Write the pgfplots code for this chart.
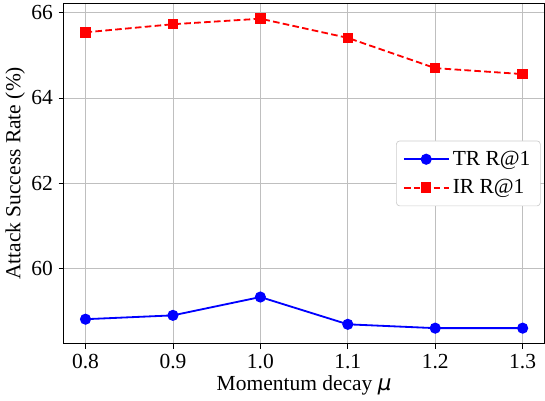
\documentclass[border=0pt]{standalone}
\usepackage{fontspec}
\setmainfont{Liberation Serif}
\newfontfamily\dejavu{DejaVu Sans}
\usepackage{pgfplots}
\pgfplotsset{compat=1.18}
\begin{document}
\begin{tikzpicture}
\begin{axis}[
  scale only axis,
  width=291pt, height=206pt,
  xmin=0.775, xmax=1.325,
  ymin=58.237, ymax=66.223,
  xtick={0.8,0.9,1.0,1.1,1.2,1.3},
  ytick={60,62,64,66},
  xticklabel style={/pgf/number format/.cd,fixed,fixed zerofill,precision=1},
  /pgf/number format/assume math mode=true,
  tick align=outside, tick pos=left,
  major tick length=3pt,
  tick style={black, line width=0.5pt},
  grid=major,
  grid style={color=black!25, line width=0.5pt},
  axis line style={black, line width=0.6pt},
  font=\fontsize{13}{15}\selectfont,
  ticklabel style={font=\fontsize{13}{15}\selectfont},
  xlabel={Momentum decay {\dejavu\itshape μ}},
  ylabel={Attack Success Rate (\%)},
  xlabel style={yshift=3pt},
  ylabel style={yshift=-3pt},
  legend style={at={(0.992,0.5)}, anchor=east, draw=black!20, rounded corners=2pt,
    fill=white, font=\fontsize{13}{15}\selectfont,
    inner xsep=4pt, inner ysep=4pt, row sep=3pt},
  legend cell align=left,
  legend image code/.code={
    \draw[#1, mark=none] (0pt,0pt) -- (27pt,0pt);
    \draw[#1, solid, draw opacity=0] plot coordinates {(13.5pt,0pt)};
  },
]
\addplot[blue, line width=1.1pt, mark=*, mark size=2.8pt, mark options={solid, draw opacity=1}]
  coordinates {(0.8,58.81) (0.9,58.90) (1.0,59.33) (1.1,58.69) (1.2,58.60) (1.3,58.60)};
\addlegendentry{TR R@1}
\addplot[red, line width=1.1pt, dash pattern=on 4pt off 2pt, mark=square*, mark size=2.6pt, mark options={solid, draw opacity=1}]
  coordinates {(0.8,65.54) (0.9,65.73) (1.0,65.86) (1.1,65.41) (1.2,64.70) (1.3,64.56)};
\addlegendentry{IR R@1}
\end{axis}
\end{tikzpicture}
\end{document}
